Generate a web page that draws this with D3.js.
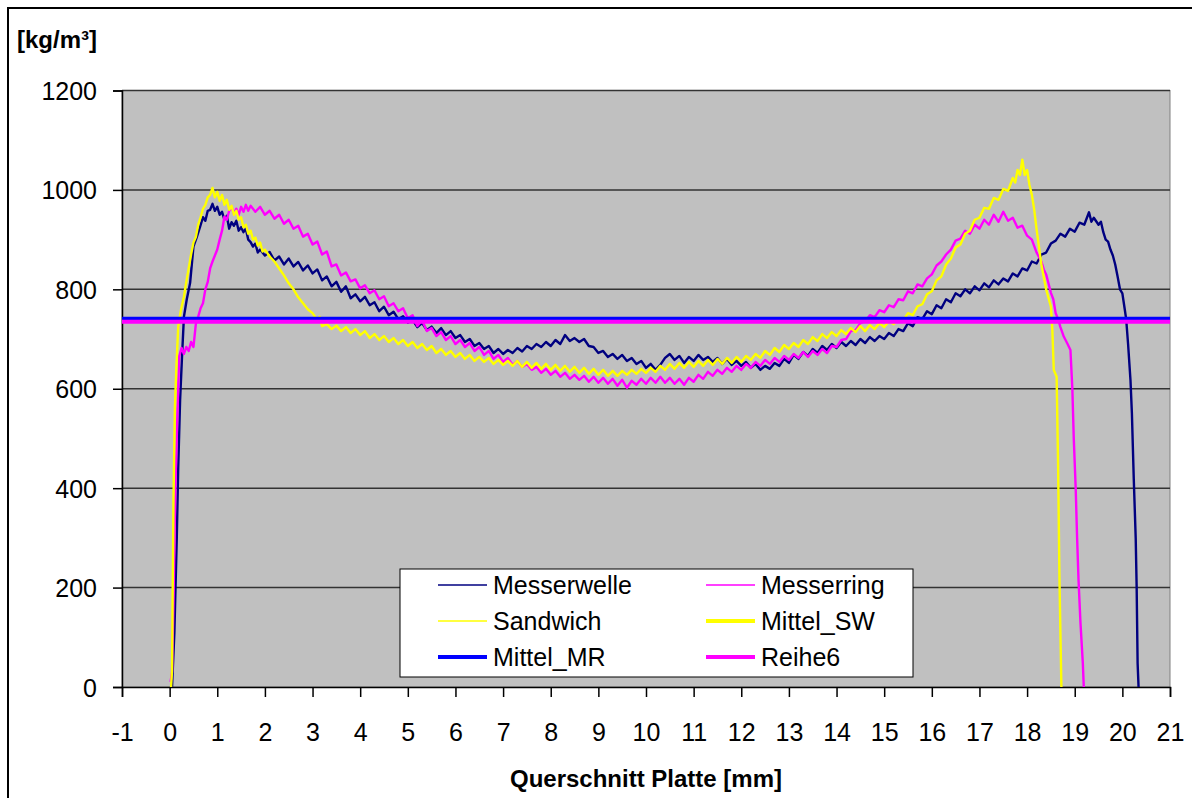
<!DOCTYPE html>
<html>
<head>
    <meta charset="utf-8">
    <title>Querschnitt Platte</title>
    <script src="https://d3js.org/d3.v7.min.js"></script>
    <style>
        body { margin: 0; background: #fff; }
        text { font-family: "Liberation Sans", Arial, sans-serif; fill: #000; }
    </style>
</head>
<body>
    <div id="svg"></div>
    <script>
        // density profiles [mm, kg/m3]
        var messerwelle = [[0.05,0],[0.1,110],[0.15,300],[0.18,440],[0.22,578],[0.26,665],[0.3,745],[0.36,780],[0.43,813],[0.5,886],[0.57,905],[0.64,926],[0.7,945],[0.75,938],[0.8,958],[0.85,960],[0.9,972],[0.95,958],[1.0,966],[1.05,950],[1.1,956],[1.15,940],[1.2,948],[1.25,922],[1.3,935],[1.35,928],[1.4,938],[1.45,918],[1.5,925],[1.55,915],[1.6,922],[1.65,900],[1.7,895],[1.75,886],[1.8,892],[1.85,874],[1.9,880],[2.0,868],[2.1,875],[2.2,858],[2.3,866],[2.4,850],[2.5,862],[2.6,846],[2.7,855],[2.8,838],[2.9,848],[3.0,832],[3.1,840],[3.2,818],[3.3,826],[3.4,806],[3.5,815],[3.6,795],[3.7,806],[3.8,782],[3.9,790],[4.0,776],[4.1,785],[4.2,768],[4.3,774],[4.4,756],[4.5,765],[4.6,748],[4.7,755],[4.8,740],[4.9,746],[5.0,733],[5.1,738],[5.2,724],[5.3,732],[5.4,718],[5.5,725],[5.6,712],[5.7,722],[5.8,708],[5.9,716],[6.0,702],[6.1,708],[6.2,694],[6.3,700],[6.4,686],[6.5,692],[6.6,680],[6.7,686],[6.8,672],[6.9,680],[7.0,670],[7.1,678],[7.2,672],[7.3,682],[7.4,675],[7.5,686],[7.6,680],[7.7,690],[7.8,684],[7.9,694],[8.0,686],[8.1,698],[8.2,690],[8.3,708],[8.4,696],[8.5,702],[8.6,694],[8.7,700],[8.8,686],[8.9,684],[9.0,672],[9.1,676],[9.2,664],[9.3,670],[9.4,660],[9.5,668],[9.6,656],[9.7,662],[9.8,650],[9.9,656],[10.0,642],[10.1,650],[10.2,638],[10.3,648],[10.4,662],[10.5,670],[10.6,658],[10.7,666],[10.8,652],[10.9,664],[11.0,656],[11.1,668],[11.2,658],[11.3,664],[11.4,654],[11.5,662],[11.6,650],[11.7,660],[11.8,648],[11.9,656],[12.0,646],[12.1,654],[12.2,642],[12.3,650],[12.4,638],[12.5,646],[12.6,640],[12.7,652],[12.8,646],[12.9,660],[13.0,652],[13.1,668],[13.2,660],[13.3,674],[13.4,666],[13.5,680],[13.6,672],[13.7,686],[13.8,678],[13.9,690],[14.0,682],[14.1,694],[14.2,686],[14.3,696],[14.4,688],[14.5,700],[14.6,692],[14.7,704],[14.8,696],[14.9,706],[15.0,700],[15.1,712],[15.2,706],[15.3,720],[15.4,716],[15.5,732],[15.6,726],[15.7,744],[15.8,740],[15.9,756],[16.0,750],[16.1,768],[16.2,762],[16.3,780],[16.4,774],[16.5,792],[16.6,786],[16.7,800],[16.8,792],[16.9,806],[17.0,798],[17.1,812],[17.2,804],[17.3,818],[17.4,810],[17.5,822],[17.6,816],[17.7,832],[17.8,826],[17.9,842],[18.0,838],[18.1,856],[18.2,852],[18.3,870],[18.4,874],[18.5,892],[18.6,898],[18.7,912],[18.8,906],[18.9,922],[19.0,916],[19.1,934],[19.2,930],[19.3,955],[19.35,936],[19.4,944],[19.5,930],[19.55,936],[19.6,915],[19.65,900],[19.7,896],[19.75,880],[19.8,868],[19.85,850],[19.9,826],[19.95,800],[20.0,792],[20.05,760],[20.08,740],[20.12,690],[20.17,618],[20.2,551],[20.24,417],[20.28,300],[20.3,200],[20.32,48],[20.34,0]];

        var messerring = [[0.02,10],[0.05,30],[0.08,169],[0.12,400],[0.15,503],[0.18,600],[0.2,665],[0.25,682],[0.3,670],[0.35,684],[0.4,676],[0.45,694],[0.5,684],[0.55,730],[0.6,745],[0.65,762],[0.7,772],[0.75,800],[0.8,815],[0.85,842],[0.9,856],[0.95,868],[1.0,880],[1.05,900],[1.1,918],[1.15,946],[1.2,940],[1.25,958],[1.3,966],[1.35,952],[1.4,962],[1.45,950],[1.5,966],[1.55,956],[1.6,970],[1.65,958],[1.7,968],[1.8,956],[1.9,966],[2.0,950],[2.1,958],[2.2,942],[2.3,950],[2.4,932],[2.5,940],[2.6,922],[2.7,928],[2.8,906],[2.9,912],[3.0,890],[3.1,896],[3.2,870],[3.3,876],[3.4,846],[3.5,850],[3.6,828],[3.7,834],[3.8,816],[3.9,820],[4.0,802],[4.1,808],[4.2,792],[4.3,798],[4.4,780],[4.5,786],[4.6,766],[4.7,772],[4.8,756],[4.9,762],[5.0,742],[5.1,748],[5.2,726],[5.3,738],[5.4,716],[5.5,722],[5.6,706],[5.7,714],[5.8,698],[5.9,706],[6.0,690],[6.1,698],[6.2,684],[6.3,692],[6.4,676],[6.5,684],[6.6,668],[6.7,676],[6.8,660],[6.9,668],[7.0,654],[7.1,662],[7.2,648],[7.3,656],[7.4,644],[7.5,650],[7.6,638],[7.7,644],[7.8,632],[7.9,640],[8.0,628],[8.1,636],[8.2,624],[8.3,632],[8.4,620],[8.5,628],[8.6,618],[8.7,626],[8.8,614],[8.9,624],[9.0,612],[9.1,622],[9.2,610],[9.3,620],[9.4,606],[9.5,618],[9.6,602],[9.7,616],[9.8,608],[9.9,620],[10.0,610],[10.1,622],[10.2,612],[10.3,624],[10.4,612],[10.5,622],[10.6,610],[10.7,620],[10.8,608],[10.9,622],[11.0,614],[11.1,628],[11.2,620],[11.3,634],[11.4,626],[11.5,638],[11.6,630],[11.7,642],[11.8,634],[11.9,646],[12.0,638],[12.1,650],[12.2,642],[12.3,654],[12.4,646],[12.5,658],[12.6,650],[12.7,662],[12.8,654],[12.9,666],[13.0,658],[13.1,670],[13.2,662],[13.3,674],[13.4,664],[13.5,676],[13.6,668],[13.7,680],[13.8,672],[13.9,686],[14.0,684],[14.1,698],[14.2,700],[14.3,716],[14.4,718],[14.5,732],[14.6,736],[14.7,748],[14.8,744],[14.9,758],[15.0,754],[15.1,768],[15.2,764],[15.3,780],[15.4,778],[15.5,796],[15.6,792],[15.7,810],[15.8,806],[15.9,822],[16.0,830],[16.1,848],[16.2,856],[16.3,870],[16.4,880],[16.5,898],[16.6,902],[16.7,918],[16.8,912],[16.9,930],[17.0,922],[17.1,940],[17.2,930],[17.3,950],[17.4,936],[17.5,956],[17.6,938],[17.7,944],[17.8,924],[17.9,928],[18.0,908],[18.1,900],[18.2,874],[18.3,856],[18.35,840],[18.4,830],[18.5,793],[18.55,780],[18.6,752],[18.65,740],[18.7,724],[18.77,705],[18.85,690],[18.91,678],[18.95,600],[18.98,500],[19.02,400],[19.05,300],[19.08,215],[19.12,130],[19.17,48],[19.19,0]];

        var sandwich = [[0.03,0],[0.05,34],[0.08,370],[0.11,560],[0.14,640],[0.18,725],[0.24,760],[0.3,785],[0.35,815],[0.4,842],[0.45,870],[0.5,894],[0.55,905],[0.6,930],[0.65,945],[0.7,962],[0.75,970],[0.8,985],[0.85,990],[0.9,1004],[0.95,985],[1.0,996],[1.05,978],[1.1,990],[1.15,970],[1.2,980],[1.25,960],[1.3,968],[1.35,950],[1.4,958],[1.45,940],[1.5,945],[1.55,925],[1.6,930],[1.65,912],[1.7,918],[1.75,900],[1.8,904],[1.85,888],[1.9,894],[1.95,876],[2.0,880],[2.1,866],[2.2,856],[2.3,842],[2.4,828],[2.5,812],[2.6,800],[2.7,784],[2.8,772],[2.9,760],[3.0,752],[3.1,738],[3.15,745],[3.2,726],[3.3,730],[3.4,720],[3.5,727],[3.6,716],[3.7,724],[3.8,712],[3.9,720],[4.0,708],[4.1,716],[4.2,702],[4.3,710],[4.4,698],[4.5,706],[4.6,694],[4.7,702],[4.8,690],[4.9,698],[5.0,686],[5.1,694],[5.2,682],[5.3,690],[5.4,678],[5.5,686],[5.6,672],[5.7,680],[5.8,668],[5.9,676],[6.0,664],[6.1,672],[6.2,660],[6.3,668],[6.4,656],[6.5,664],[6.6,654],[6.7,662],[6.8,650],[6.9,658],[7.0,648],[7.1,656],[7.2,646],[7.3,656],[7.4,644],[7.5,654],[7.6,642],[7.7,652],[7.8,640],[7.9,650],[8.0,638],[8.1,648],[8.2,636],[8.3,646],[8.4,634],[8.5,644],[8.6,632],[8.7,642],[8.8,630],[8.9,640],[9.0,628],[9.1,638],[9.2,626],[9.3,636],[9.4,626],[9.5,636],[9.6,628],[9.7,638],[9.8,630],[9.9,640],[10.0,632],[10.1,642],[10.2,634],[10.3,646],[10.4,638],[10.5,650],[10.6,640],[10.7,652],[10.8,642],[10.9,654],[11.0,644],[11.1,656],[11.2,646],[11.3,658],[11.4,648],[11.5,660],[11.6,650],[11.7,662],[11.8,652],[11.9,664],[12.0,654],[12.1,666],[12.2,658],[12.3,670],[12.4,662],[12.5,676],[12.6,668],[12.7,682],[12.8,674],[12.9,688],[13.0,680],[13.1,692],[13.2,684],[13.3,698],[13.4,690],[13.5,704],[13.6,696],[13.7,710],[13.8,702],[13.9,714],[14.0,706],[14.1,718],[14.2,710],[14.3,722],[14.4,714],[14.5,726],[14.6,716],[14.7,728],[14.8,720],[14.9,732],[15.0,724],[15.1,736],[15.2,730],[15.3,742],[15.4,738],[15.5,752],[15.6,748],[15.7,766],[15.8,770],[15.9,790],[16.0,796],[16.1,818],[16.2,826],[16.3,850],[16.4,862],[16.5,884],[16.6,890],[16.7,912],[16.8,918],[16.9,940],[17.0,944],[17.1,964],[17.2,962],[17.3,984],[17.4,980],[17.5,1002],[17.6,998],[17.7,1024],[17.75,1015],[17.8,1040],[17.85,1030],[17.9,1061],[17.95,1030],[18.0,1040],[18.05,1010],[18.1,990],[18.15,960],[18.2,920],[18.3,850],[18.4,800],[18.5,765],[18.53,719],[18.56,638],[18.62,624],[18.65,451],[18.68,215],[18.72,0]];

        var mittelSW = 738;
        var mittelMR = 741;
        var reihe6 = 735;

        var xTicks = d3.range(-1, 22, 1);
        var yTicks = [0, 200, 400, 600, 800, 1000, 1200];

        var legendNames = ["Messerwelle", "Messerring", "Sandwich", "Mittel_SW", "Mittel_MR", "Reihe6"];
        var legendColors = ["#000080", "#FF00FF", "#FFFF00", "#FFFF00", "#0000FF", "#FF00FF"];
        var legendWidths = [1.5, 1.5, 1.5, 4, 4, 4];

        var width = 1192, height = 798;
        var margin = { top: 90.5, right: 22, bottom: 111, left: 122 };

        var svg = d3.select("#svg")
            .append("svg")
            .attr("width", width)
            .attr("height", height);

        // outer frame
        svg.append("rect")
            .attr("x", 8).attr("y", 8)
            .attr("width", width + 20).attr("height", height + 20)
            .style("fill", "none").style("stroke", "#000").style("stroke-width", 2);

        var x = d3.scaleLinear().domain([-1, 21]).range([margin.left, width - margin.right]);
        var y = d3.scaleLinear().domain([0, 1200]).range([height - margin.bottom, margin.top]);

        svg.append("rect")
            .attr("x", x(-1)).attr("y", y(1200))
            .attr("width", x(21) - x(-1)).attr("height", y(0) - y(1200))
            .style("fill", "#C0C0C0")
            .style("stroke", "#808080").style("stroke-width", 1);

        // grid
        svg.selectAll("grid")
            .data(yTicks.slice(1)).enter()
            .append("line")
            .attr("x1", x(-1)).attr("x2", x(21))
            .attr("y1", function (d) { return y(d); })
            .attr("y2", function (d) { return y(d); })
            .style("stroke", "#333").style("stroke-width", 1.5);

        // axes
        var xAxis = svg.append("g")
            .attr("transform", "translate(0," + y(0) + ")")
            .call(d3.axisBottom(x).tickValues(xTicks).tickSize(10).tickPadding(26).tickFormat(function (d) { return String(d); }));
        var yAxis = svg.append("g")
            .attr("transform", "translate(" + x(-1) + ",0)")
            .call(d3.axisLeft(y).tickValues(yTicks).tickSize(9).tickPadding(16).tickFormat(function (d) { return String(d); }));
        [xAxis, yAxis].forEach(function (a) {
            a.select(".domain").style("stroke", "#000").style("stroke-width", 1.5);
            a.selectAll(".tick line").style("stroke", "#000").style("stroke-width", 1.5);
            a.selectAll(".tick text").style("font-size", "25px").style("font-family", "Liberation Sans, Arial, sans-serif");
        });
        yAxis.selectAll(".tick text").attr("dy", "0.36em");

        var line = d3.line()
            .x(function (d) { return x(d[0]); })
            .y(function (d) { return y(d[1]); });

        var series = [
            { data: messerwelle, color: "#000080", w: 2.4 },
            { data: messerring, color: "#FF00FF", w: 2.4 },
            { data: sandwich, color: "#FFFF00", w: 2.4 }
        ];
        svg.selectAll("myPath")
            .data(series).enter()
            .append("path")
            .attr("d", function (d) { return line(d.data); })
            .style("fill", "none")
            .style("stroke", function (d) { return d.color; })
            .style("stroke-width", function (d) { return d.w; })
            .style("stroke-linejoin", "round");

        // mean lines
        var means = [
            { v: mittelSW, color: "#FFFF00" },
            { v: mittelMR, color: "#0000FF" },
            { v: reihe6, color: "#FF00FF" }
        ];
        svg.selectAll("myMean")
            .data(means).enter()
            .append("line")
            .attr("x1", x(-1)).attr("x2", x(21))
            .attr("y1", function (d) { return y(d.v); })
            .attr("y2", function (d) { return y(d.v); })
            .style("stroke", function (d) { return d.color; })
            .style("stroke-width", 4);

        // legend
        var lg = svg.append("g").attr("transform", "translate(400,569)");
        lg.append("rect")
            .attr("width", 513).attr("height", 108)
            .style("fill", "#fff").style("stroke", "#000").style("stroke-width", 1);
        legendNames.forEach(function (n, i) {
            var col = i % 2, row = Math.floor(i / 2);
            var lx = col === 0 ? 38 : 306;
            var ly = 16 + row * 36;
            lg.append("line")
                .attr("x1", lx).attr("x2", lx + 49)
                .attr("y1", ly).attr("y2", ly)
                .style("stroke", legendColors[i])
                .style("stroke-width", legendWidths[i]);
            lg.append("text")
                .attr("x", lx + 55).attr("y", ly)
                .attr("dy", "0.36em")
                .style("font-size", "25px")
                .text(n);
        });

        // axis titles
        svg.append("text")
            .attr("x", 17).attr("y", 48)
            .style("font-size", "24px").style("font-weight", "bold")
            .text("[kg/m³]");
        svg.append("text")
            .attr("x", 646).attr("y", 787)
            .attr("text-anchor", "middle")
            .style("font-size", "24px").style("font-weight", "bold")
            .text("Querschnitt Platte [mm]");
    </script>
</body>
</html>
